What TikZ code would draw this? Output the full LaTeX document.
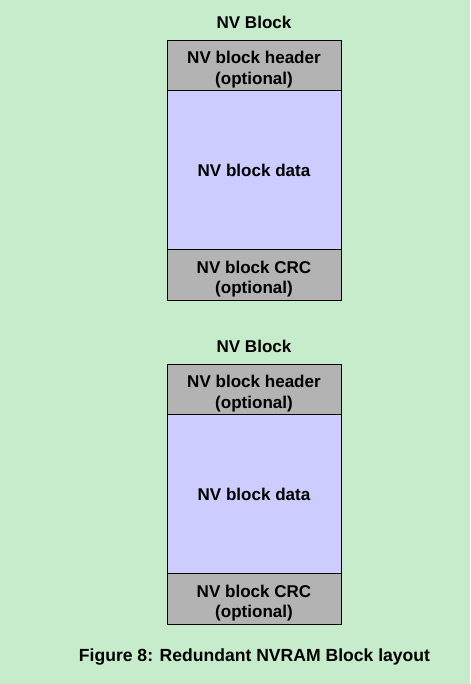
\documentclass[tikz,border=0pt]{standalone}
\usepackage{fontspec}
\setmainfont{Liberation Sans}
\usetikzlibrary{
  positioning   % Function "of" (e.g. [below=of x])
}
\definecolor{pagegreen}{RGB}{199,236,203}
\definecolor{optgray}{RGB}{179,179,179}
\definecolor{datablue}{RGB}{204,204,255}
\def\mywidth{3.48cm}
\def\optstrut{\rule{0pt}{12pt}}
\tikzset{
  font=\fontsize{9.7}{11.5}\selectfont\bfseries,
  thick,
  block title/.style={
    inner sep=0pt
  },
  block part/.style={
    draw,
    rectangle,
    minimum width=\mywidth,
    inner sep=0pt,
    outer sep=0pt,
    align=center
  },
  opt part/.style={
    block part,
    fill=optgray,
    minimum height=1.01cm
  },
  data part/.style={
    block part,
    fill=datablue,
    minimum height=3.18cm
  }
}

\begin{document}
\begin{tikzpicture}
\fill[pagegreen] (0,0) rectangle (9.4,-13.68);
\useasboundingbox (0,0) rectangle (9.4,-13.68);
% first block
\node[block title] (title1) at (5.08,-0.44) {NV Block};
\node[opt part,anchor=north] (header1) at (5.08,-0.80) {\optstrut NV block header\\(optional)};
\node[data part] (data1) [below=0pt of header1] {NV block data};
\node[opt part] (crc1) [below=0pt of data1] {\optstrut NV block CRC\\(optional)};
% second block
\node[block title] (title2) at (5.08,-6.92) {NV Block};
\node[opt part,anchor=north] (header2) at (5.08,-7.28) {\optstrut NV block header\\(optional)};
\node[data part] (data2) [below=0pt of header2] {NV block data};
\node[opt part] (crc2) [below=0pt of data2] {\optstrut NV block CRC\\(optional)};
% caption
\node[font=\fontsize{10}{12}\selectfont\bfseries] (caption) at (5.09,-13.14) {Figure 8: Redundant NVRAM Block layout};
\end{tikzpicture}
\end{document}
